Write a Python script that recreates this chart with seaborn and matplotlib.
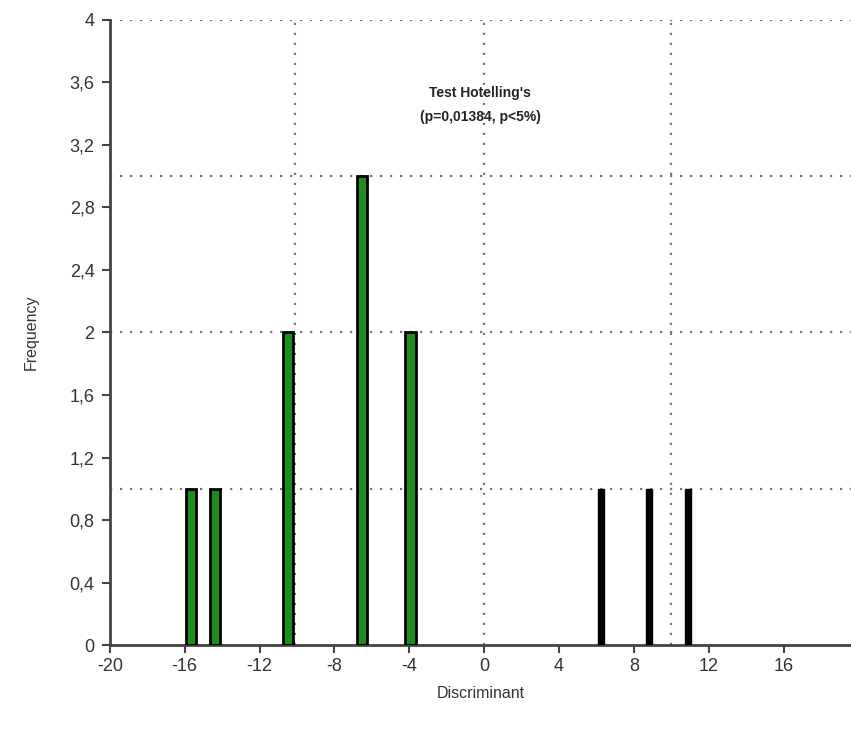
import pandas as pd
import seaborn as sns
import matplotlib.pyplot as plt

# bar positions (discriminant score) and counts
green_x = [-15.66, -14.38, -10.47, -6.52, -3.93]
green_freq = [1, 1, 2, 3, 2]
black_x = [6.24, 8.82, 10.9]
black_freq = [1, 1, 1]

x_ticks = [-20, -16, -12, -8, -4, 0, 4, 8, 12, 16]
y_ticks = [0, 0.4, 0.8, 1.2, 1.6, 2, 2.4, 2.8, 3.2, 3.6, 4]
y_tick_labels = ['0', '0,4', '0,8', '1,2', '1,6', '2', '2,4', '2,8', '3,2', '3,6', '4']

df_green = pd.DataFrame({'Discriminant': green_x, 'Frequency': green_freq})
df_black = pd.DataFrame({'Discriminant': black_x, 'Frequency': black_freq})

sns.set_style('white')
plt.rcParams['font.family'] = ['Liberation Sans', 'DejaVu Sans']

fig = plt.figure(figsize=(8.51, 7.29), dpi=100)
ax = fig.add_axes([0.129, 0.115, 0.871, 0.858])

# dotted reference grid
for yv in [1, 2, 3, 4]:
    ax.axhline(yv, color='#777777', lw=1.6, ls=(0, (1, 3.5)), zorder=0)
for xv in [-10.1, 0, 10]:
    ax.axvline(xv, color='#777777', lw=1.6, ls=(0, (1, 3.5)), zorder=0)

# native_scale width is relative to the smallest gap between bars
gap_g = min(b - a for a, b in zip(green_x[:-1], green_x[1:]))
gap_b = min(b - a for a, b in zip(black_x[:-1], black_x[1:]))
sns.barplot(data=df_green, x='Discriminant', y='Frequency', native_scale=True,
            width=0.55 / gap_g, color='#1e8c1e', edgecolor='black',
            linewidth=2, saturation=1, ax=ax, zorder=3)
sns.barplot(data=df_black, x='Discriminant', y='Frequency', native_scale=True,
            width=0.3 / gap_b, color='black', edgecolor='black',
            linewidth=1, saturation=1, ax=ax, zorder=3)

ax.set_xlim(-20, 19.6)
ax.set_ylim(0, 4)
ax.set_xticks(x_ticks)
ax.set_xticklabels([str(t) for t in x_ticks])
ax.set_yticks(y_ticks)
ax.set_yticklabels(y_tick_labels)
ax.tick_params(axis='both', direction='out', length=6, width=1.5,
               color='#444444', labelcolor='#333333', labelsize=13,
               left=True, bottom=True)
ax.tick_params(axis='y', pad=5)

for s in ['top', 'right']:
    ax.spines[s].set_visible(False)
for s in ['left', 'bottom']:
    ax.spines[s].set_color('#444444')
    ax.spines[s].set_linewidth(2)

ax.set_xlabel('Discriminant', fontsize=11.5, color='#333333', labelpad=8)
ax.set_ylabel('Frequency', fontsize=11.5, color='#333333', labelpad=22)

ax.text(-0.2, 3.53, "Test Hotelling's", ha='center', va='center',
        fontsize=10, fontweight='bold', color='#222222')
ax.text(-0.2, 3.38, '(p=0,01384, p<5%)', ha='center', va='center',
        fontsize=10, fontweight='bold', color='#222222')

fig.savefig('out.png', dpi=100)
